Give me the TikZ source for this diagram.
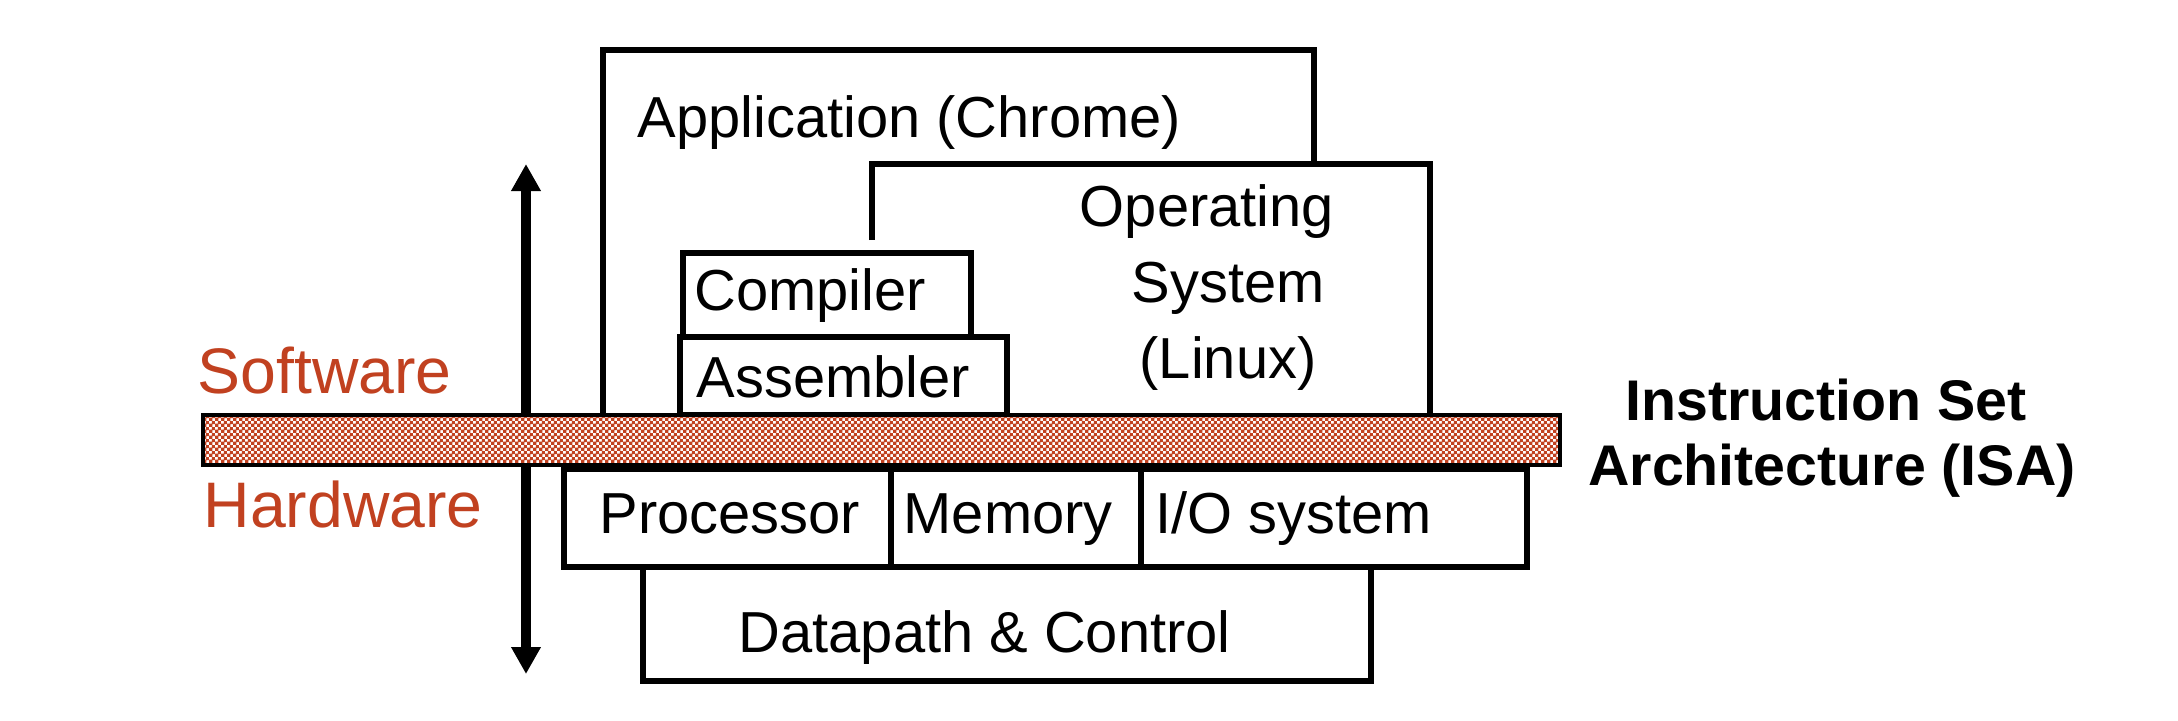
\documentclass[tikz,border=0pt]{standalone}
\usepackage{fontspec}
\setmainfont{Liberation Sans}
\usepackage{tikz}
\usetikzlibrary{arrows.meta}
\usetikzlibrary{patterns}

\definecolor{isared}{RGB}{193,65,32}

% small red/white checker for the ISA bar
\pgfdeclarepatternformonly{finecheck}{\pgfqpoint{0pt}{0pt}}{\pgfqpoint{1.7pt}{1.7pt}}{\pgfqpoint{1.7pt}{1.7pt}}{%
	\pgfpathrectangle{\pgfqpoint{0pt}{0pt}}{\pgfqpoint{0.95pt}{0.95pt}}%
	\pgfpathrectangle{\pgfqpoint{0.85pt}{0.85pt}}{\pgfqpoint{0.95pt}{0.95pt}}%
	\pgfusepath{fill}}

\begin{document}
\begin{tikzpicture}[x=0.01cm,y=-0.01cm,
	every node/.style={inner sep=0pt,font=\fontsize{16.45pt}{19pt}\selectfont},
	layer/.style={draw,line width=1.9pt,fill=white},
	edge/.style={line width=1.9pt},
	side/.style={text=isared,font=\fontsize{18.3pt}{21pt}\selectfont},
	isa/.style={font=\fontsize{16.3pt}{19pt}\selectfont\bfseries}]
\useasboundingbox (0,0) rectangle (2178,720);

%arrow
\coordinate (up) at (526,164);
\coordinate (down) at (526,674);
\draw[line width=2.6pt,{Triangle[width=0.28cm,length=0.27cm]}-{Triangle[width=0.28cm,length=0.27cm]}] (up) -- (down);

%software
\draw[edge] (603,415) -- (603,50) -- (1314,50) -- (1314,164);
\draw[edge] (872,240) -- (872,164) -- (1430,164) -- (1430,415);
\draw[layer] (683,253) rectangle (971,337);
\draw[layer] (680,337) rectangle (1007,415);

\node[anchor=base west] (app) at (637,137) {Application (Chrome)};
\node[anchor=base] (os1) at (1207,226) {Operating};
\node[anchor=base] (os2) at (1228,302) {System};
\node[anchor=base] (os3) at (1228,378) {(Linux)};
\node[anchor=base west] (comp) at (694,310) {Compiler};
\node[anchor=base west] (asm) at (696,397) {Assembler};

%isa bar
\draw[line width=1.1pt,preaction={fill=white},pattern=finecheck,pattern color=isared] (203,415) rectangle (1560,465);

%hardware
\draw[layer] (564,469) rectangle (1527,567);
\foreach \x in {891,1141}
	\draw[edge] (\x,469) -- (\x,567);
\draw[layer] (643,567) rectangle (1371,681);

\foreach \name/\txt/\xpos in {proc/Processor/599, mem/Memory/903, io/{I/O system}/1155}
	\node[anchor=base west] (\name) at (\xpos,533) {\txt};
\node[anchor=base west] (dp) at (738,652) {Datapath \& Control};

%labels
\node[side,anchor=base west] (sw) at (197,393) {Software};
\node[side,anchor=base west] (hw) at (203,527) {Hardware};
\node[isa,anchor=base] (isa1) at (1826,420) {Instruction Set};
\node[isa,anchor=base] (isa2) at (1832,485) {Architecture (ISA)};
\end{tikzpicture}
\end{document}
